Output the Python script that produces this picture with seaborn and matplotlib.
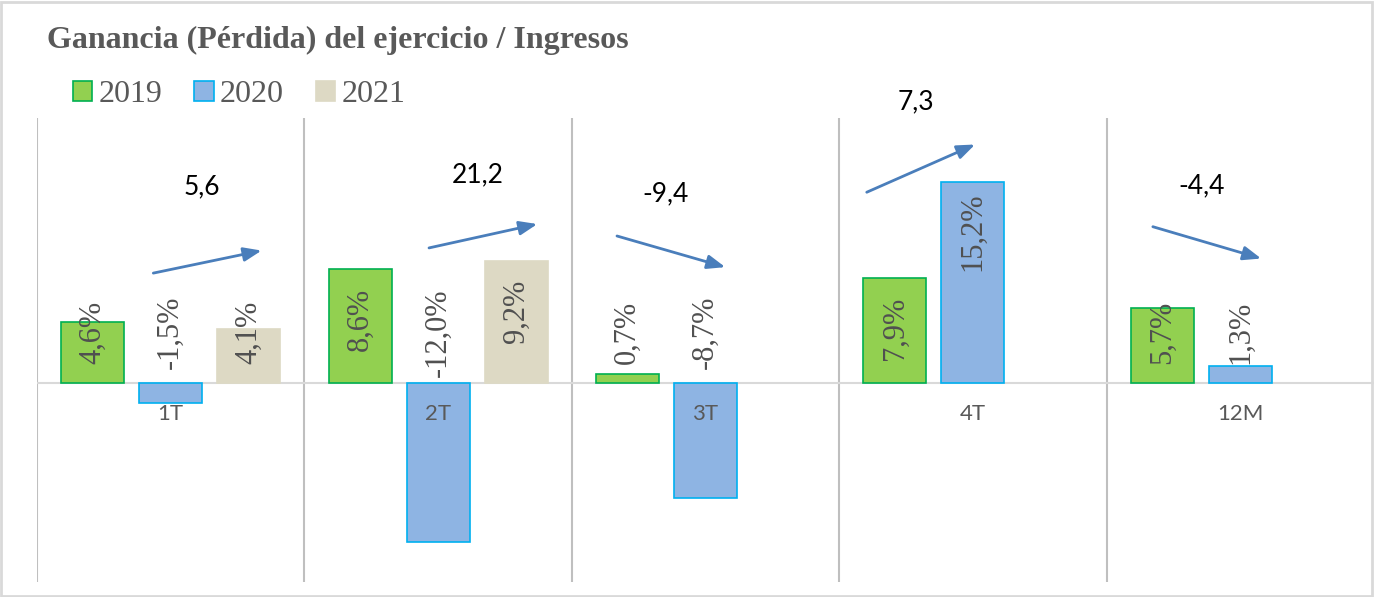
import numpy as np
import pandas as pd
import matplotlib
matplotlib.use("Agg")
import matplotlib.pyplot as plt
import seaborn as sns
from matplotlib.patches import Patch, Rectangle

# ── DATA ──
periodos = ["1T", "2T", "3T", "4T", "12M"]
anios = ["2019", "2020", "2021"]
v2019 = [4.6, 8.6, 0.7, 7.9, 5.7]
v2020 = [-1.5, -12.0, -8.7, 15.2, 1.3]
v2021 = [4.1, 9.2, np.nan, np.nan, np.nan]
variacion = ["5,6", "21,2", "-9,4", "7,3", "-4,4"]

# ── LAYOUT (annotation arrows / labels, not data) ──
arrow_dx = [-0.065, -0.034, -0.331, -0.397, -0.327]
arrow_y0 = [8.3, 10.2, 11.1, 14.4, 11.8]
arrow_y1 = [10.0, 12.0, 8.75, 18.0, 9.4]
texto_y = [14.8, 15.7, 14.3, 21.2, 14.9]

colores = {"2019": "#92D050", "2020": "#8EB4E3", "2021": "#DDD9C4"}
bordes = {"2019": "#00B050", "2020": "#00B0F0", "2021": "#DDD9C4"}
GRIS = "#595959"

df = pd.DataFrame({
    "periodo": periodos * 3,
    "anio": [a for a in anios for _ in periodos],
    "valor": v2019 + v2020 + v2021,
})

sns.set_theme(style="white")
plt.rcParams["font.family"] = ["Liberation Serif", "DejaVu Serif"]

fig = plt.figure(figsize=(13.75, 5.97), dpi=100)
ax = fig.add_axes([37 / 1375, 15 / 597, 1337 / 1375, 464 / 597])

sns.barplot(data=df, x="periodo", y="valor", hue="anio", order=periodos,
            hue_order=anios, palette=colores, saturation=1, width=0.875,
            gap=0.19, legend=False, ax=ax)

# colour the borders and write the rotated labels
for anio, cont in zip(anios, ax.containers):
    for bar in cont:
        bar.set_edgecolor(bordes[anio])
        bar.set_linewidth(1.2)
        h = bar.get_height()
        if np.isnan(h):
            continue
        etiqueta = f"{h:.1f}%".replace(".", ",")
        ax.text(bar.get_x() + bar.get_width() / 2, max(h - 3.8, 3.8),
                etiqueta, rotation=90, ha="center", va="center",
                fontsize=22, color="#505050")

ax.set_xlim(-0.5, 4.5)
ax.set_ylim(-15, 20)
for s in ax.spines.values():
    s.set_visible(False)
ax.set_xticks([])
ax.set_yticks([])
ax.set_xlabel("")
ax.set_ylabel("")

for i in range(len(periodos)):
    ax.axvline(i - 0.5, color="#BFBFBF", lw=1.5, zorder=0)
ax.axhline(0, color="#D9D9D9", lw=1.5, zorder=0.5)

for i, p in enumerate(periodos):
    ax.text(i, -2.35, p, ha="center", va="center", fontsize=16,
            color=GRIS, family=["Lato", "DejaVu Sans"])

# arrows with change labels
for i, txt in enumerate(variacion):
    x0 = i + arrow_dx[i]
    x1 = x0 + 0.405
    ax.annotate("", xy=(x1, arrow_y1[i]), xytext=(x0, arrow_y0[i]),
                arrowprops=dict(arrowstyle="-|>,head_length=0.9,head_width=0.35",
                                color="#4A7EBB", lw=2, shrinkA=0, shrinkB=0),
                annotation_clip=False)
    ax.text((x0 + x1) / 2 - 0.02, texto_y[i], txt,
            ha="center", va="center", fontsize=19, color="black",
            family=["Lato", "DejaVu Sans"], clip_on=False)

fig.text(47 / 1375, 1 - 40 / 597, "Ganancia (Pérdida) del ejercicio / Ingresos",
         fontsize=23, fontweight="bold", color=GRIS, ha="left", va="center")

handles = [Patch(facecolor=colores[a], edgecolor=bordes[a], lw=1.2) for a in anios]
fig.legend(handles, anios, loc="center left", bbox_to_anchor=(73 / 1375, 1 - 95 / 597),
           ncol=3, frameon=False, fontsize=23, labelcolor=GRIS,
           handlelength=0.6, handleheight=0.6, handletextpad=0.2,
           columnspacing=1.0, borderaxespad=0, borderpad=0)

fig.patches.append(Rectangle((0.001, 0.002), 0.997, 0.994, transform=fig.transFigure,
                             fill=False, edgecolor="#D9D9D9", lw=2))

fig.savefig("out.png", dpi=100)
